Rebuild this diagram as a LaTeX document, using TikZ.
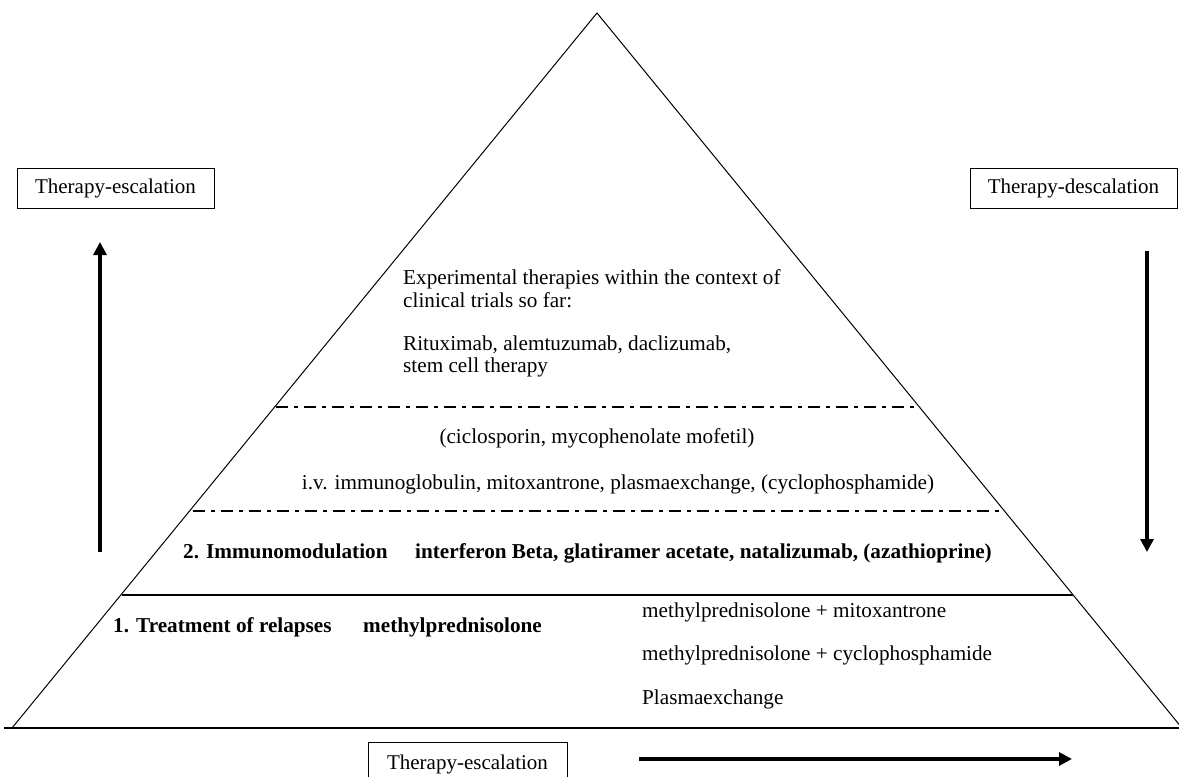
\documentclass[tikz,border=0pt]{standalone}
\usepackage{fontspec}
\setmainfont{Liberation Serif}
\usetikzlibrary{arrows.meta}
\begin{document}
\begin{tikzpicture}[x=1pt,y=-1pt,
  txt/.style={inner sep=0pt,font=\fontsize{21.2}{24}\selectfont},
  btxt/.style={inner sep=0pt,font=\fontsize{21.2}{24}\selectfont\bfseries},
  lbox/.style={draw,line width=0.9pt,minimum height=40pt,inner sep=0pt,font=\fontsize{21}{24}\selectfont},
  bigarrow/.style={line width=4.5pt,-{Triangle[length=13pt,width=13pt]}},
  dashdot/.style={line width=2.8pt,dash pattern=on 12pt off 6pt on 4pt off 6pt},
  edge/.style={line width=1pt}]
\useasboundingbox (0,0) rectangle (1179,777);
\clip (0,0) rectangle (1179,777);
% triangle
\coordinate (apex) at (597,13);
\coordinate (bl) at (12,728);
\coordinate (br) at (1182,728);
\draw[edge,line join=miter] (bl) -- (apex) -- (br);
\coordinate (b0) at (4,728);
\coordinate (b1) at (1179,728);
\draw[line width=1.6pt] (b0) -- (b1);
% separator lines
\coordinate (s1a) at (122,595); \coordinate (s1b) at (1073,595);
\draw[line width=2.6pt] (s1a) -- (s1b);
\coordinate (d2a) at (193,511); \coordinate (d2b) at (1001,511);
\draw[dashdot] (d2a) -- (d2b);
\coordinate (d1a) at (276,407); \coordinate (d1b) at (920,407);
\draw[dashdot] (d1a) -- (d1b);
% side boxes and arrows
\node[lbox,minimum width=197pt] (esc) at (115.5,188) {Therapy-escalation};
\node[lbox,minimum width=207pt] (desc) at (1073.5,188.5) {Therapy-descalation};
\coordinate (la0) at (100,552); \coordinate (la1) at (100,242);
\draw[bigarrow] (la0) -- (la1);
\coordinate (ra0) at (1147,251); \coordinate (ra1) at (1147,552);
\draw[bigarrow] (ra0) -- (ra1);
% bottom
\node[lbox,minimum width=199pt,minimum height=44pt,anchor=north] (besc) at (467.5,742) {\raisebox{4pt}{Therapy-escalation}};
\coordinate (ba0) at (639,759); \coordinate (ba1) at (1072,759);
\draw[bigarrow] (ba0) -- (ba1);
% texts top
\node[txt,anchor=base west] (t1) at (403,284) {Experimental therapies within the context of};
\node[txt,anchor=base west] (t2) at (403,307) {clinical trials so far:};
\node[txt,anchor=base west] (t3) at (403,350) {Rituximab, alemtuzumab, daclizumab,};
\node[txt,anchor=base west] (t4) at (403,372) {stem cell therapy};
\node[txt,anchor=base] (t5) at (597,443) {(ciclosporin, mycophenolate mofetil)};
\node[txt,anchor=base] (t6) at (618,489) {i.v. immunoglobulin, mitoxantrone, plasmaexchange, (cyclophosphamide)};
\node[btxt,anchor=base west] (t7) at (183,558) {2. Immunomodulation};
\node[btxt,anchor=base west] (t8) at (415,558) {interferon Beta, glatiramer acetate, natalizumab, (azathioprine)};
\node[btxt,anchor=base west] (t9) at (113,632) {1. Treatment of relapses};
\node[btxt,anchor=base west] (t10) at (363,632) {methylprednisolone};
\node[txt,anchor=base west] (t11) at (642,617) {methylprednisolone + mitoxantrone};
\node[txt,anchor=base west] (t12) at (642,660) {methylprednisolone + cyclophosphamide};
\node[txt,anchor=base west] (t13) at (642,704) {Plasmaexchange};
\end{tikzpicture}
\end{document}
